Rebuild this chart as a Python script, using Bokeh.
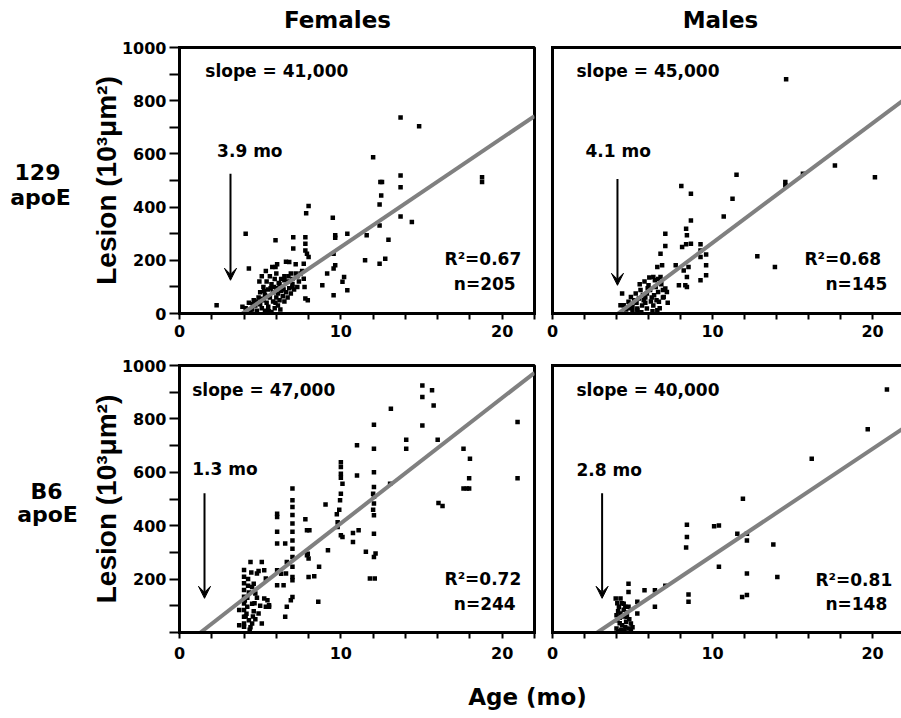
from bokeh.plotting import figure
from bokeh.models import Range1d, FixedTicker, LinearAxis, Arrow, VeeHead
from bokeh.layouts import row, column
from bokeh.embed import file_html
from bokeh.resources import INLINE
from bokeh.core.properties import value

FONT = "DejaVu Sans"

# ---------------- data (age in months, lesion in 10^3 um^2) ----------------
f129_age = [2.3, 4.1, 4.3, 5.95, 7.05, 7.05, 6.8, 7.8, 7.8, 7.8,
            7.85, 8.0, 7.7, 8.0, 7.9, 7.5, 7.7, 7.75, 7.8, 7.95,
            9.5, 9.65, 9.65, 9.55, 9.65, 9.55, 9.15, 8.85, 9.55, 10.4,
            10.2, 10.1, 10.4, 11.6, 11.5, 12.0, 12.45, 12.55, 12.5, 12.4,
            12.4, 12.4, 12.75, 12.95, 13.7, 14.85, 13.7, 13.7, 13.7, 14.4,
            18.75, 18.75, 5.95, 6.5, 6.9, 7.2, 7.4, 6.6, 7.0, 7.3,
            3.9, 4.1, 4.3, 4.5, 4.6, 4.7, 4.8, 4.9, 5.0, 5.0,
            5.1, 5.2, 5.2, 5.3, 5.3, 5.4, 5.4, 5.5, 5.5, 5.6,
            5.6, 5.7, 5.7, 5.8, 5.8, 5.9, 5.9, 6.0, 6.0, 6.0,
            6.1, 6.1, 6.2, 6.2, 6.3, 6.3, 6.4, 6.4, 6.5, 6.5,
            6.6, 6.7, 6.7, 6.8, 6.9, 7.0, 7.0, 7.1, 7.2, 7.3,
            5.1, 4.95, 5.35, 5.75, 6.05, 5.55, 4.4, 4.55, 5.85, 6.25,
            4.75, 5.05, 5.25, 5.45, 5.65, 5.95, 6.15, 6.45, 6.75, 7.6]
f129_lesion = [31, 300, 169, 275, 287, 244, 194, 287, 262, 237,
               377, 404, 187, 212, 225, 150, 131, 100, 56, 50,
               360, 294, 285, 225, 181, 169, 150, 106, 69, 300,
               137, 119, 87, 294, 200, 587, 494, 494, 444, 410,
               331, 187, 206, 277, 737, 704, 519, 475, 365, 344,
               512, 494, 175, 125, 150, 185, 120, 195, 100, 140,
               25, 20, 40, 15, 50, 30, 10, 60, 35, 80,
               20, 100, 50, 10, 70, 40, 120, 90, 25, 60,
               140, 5, 110, 45, 80, 130, 20, 95, 60, 150,
               75, 30, 110, 50, 85, 130, 65, 100, 45, 140,
               80, 60, 120, 95, 75, 110, 130, 90, 150, 100,
               140, 120, 160, 175, 185, 8, 5, 35, 100, 15,
               45, 55, 85, 65, 95, 40, 115, 90, 140, 160]

m129_age = [14.6, 11.5, 11.25, 10.7, 8.05, 8.65, 8.65, 8.35, 8.4, 8.35,
            8.65, 8.1, 9.25, 9.25, 9.6, 9.25, 9.6, 9.6, 9.25, 8.5,
            8.2, 8.4, 8.3, 7.9, 8.4, 7.7, 7.05, 7.05, 6.75, 6.55,
            6.85, 6.3, 6.75, 14.55, 14.55, 15.65, 17.65, 20.15, 12.8, 13.9,
            4.35, 4.45, 4.25, 4.75, 5.2, 5.4, 5.5, 5.7, 5.9, 6.0,
            6.1, 6.35, 6.45, 6.6, 6.65, 6.9, 7.05, 6.95, 7.15, 5.3,
            5.9, 5.3, 6.55, 5.6, 5.0, 4.6, 5.1, 5.8, 6.2, 6.3,
            6.5, 5.45, 5.75, 6.05, 6.4, 6.9, 7.2, 6.7, 4.9, 5.65,
            6.15, 6.8, 5.0, 5.55, 6.25, 4.85, 5.95, 6.6, 5.25, 5.8]
m129_lesion = [881, 522, 431, 365, 479, 450, 350, 319, 294, 260,
               262, 250, 260, 237, 222, 212, 181, 144, 125, 175,
               162, 137, 106, 106, 100, 181, 300, 254, 225, 175,
               181, 137, 137, 494, 481, 525, 556, 512, 215, 175,
               75, 31, 31, 44, 75, 56, 88, 50, 75, 106,
               88, 69, 100, 81, 44, 88, 94, 62, 81, 19,
               19, 12, 12, 30, 25, 15, 50, 40, 60, 30,
               50, 110, 120, 135, 125, 60, 40, 20, 62, 70,
               45, 110, 8, 5, 8, 20, 95, 130, 40, 60]

fb6_age = [15.05, 15.05, 15.65, 15.75, 15.05, 13.1, 12.05, 12.05, 11.0, 11.0,
           20.95, 20.95, 14.05, 14.05, 16.0, 17.6, 18.0, 17.95, 17.6, 17.95,
           17.8, 16.05, 16.3, 13.05, 12.05, 12.05, 12.05, 12.05, 12.05, 12.05,
           12.15, 12.05, 11.8, 12.1, 12.0, 12.0, 11.55, 10.75, 11.1, 10.75,
           10.0, 10.0, 10.0, 10.1, 10.0, 9.95, 9.9, 9.75, 9.8, 9.8,
           10.0, 10.1, 10.0, 9.05, 9.2, 8.65, 8.35, 8.0, 8.6, 7.9,
           8.05, 7.8, 7.9, 8.0, 7.95, 7.0, 7.0, 7.0, 7.0, 7.0,
           7.0, 7.0, 7.0, 7.0, 7.0, 7.0, 7.0, 6.65, 6.6, 7.0,
           6.9, 6.65, 6.55, 6.05, 6.05, 6.05, 6.05, 6.55, 6.05, 6.05,
           6.45, 6.3, 5.55, 5.25, 5.35, 4.0, 4.0, 4.0, 4.0, 4.0,
           4.0, 4.0, 4.0, 4.0, 4.0, 4.05, 4.1, 4.4, 5.1, 4.8,
           5.25, 5.35, 4.6, 4.7, 4.5, 4.3, 4.5, 5.1, 4.9, 4.2,
           3.7, 3.7, 5.45, 5.55, 4.3, 4.5, 4.8, 4.6, 4.4, 4.25,
           4.9, 5.0, 4.7, 4.2, 4.45, 4.35, 4.15, 4.65, 4.55, 4.25]
fb6_lesion = [925, 882, 907, 850, 775, 838, 778, 688, 701, 588,
              788, 578, 722, 688, 722, 688, 651, 578, 539, 539,
              539, 485, 474, 557, 600, 545, 508, 483, 439, 370,
              296, 283, 202, 202, 520, 460, 302, 373, 383, 339,
              638, 620, 595, 557, 520, 495, 460, 443, 413, 395,
              364, 358, 580, 479, 308, 246, 211, 208, 115, 383,
              383, 424, 289, 277, 295, 539, 495, 470, 440, 408,
              377, 345, 314, 283, 246, 208, 196, 264, 221, 133,
              121, 96, 59, 445, 433, 377, 333, 333, 233, 177,
              177, 220, 102, 127, 96, 234, 209, 184, 159, 134,
              109, 84, 59, 34, 22, 120, 60, 264, 264, 221,
              233, 202, 183, 146, 108, 46, 34, 34, 71, 96,
              84, 27, 121, 96, 150, 170, 130, 80, 20, 200,
              230, 100, 50, 130, 225, 10, 70, 110, 60, 175]

mb6_age = [20.9, 19.7, 16.2, 11.9, 8.4, 8.4, 8.35, 10.1, 10.4, 11.55,
           12.15, 12.15, 13.8, 10.4, 12.15, 14.05, 11.85, 12.15, 8.5, 8.5,
           7.05, 6.4, 6.4, 5.75, 5.3, 5.3, 4.75, 4.75, 3.95, 4.25,
           4.15, 4.25, 4.05, 4.35, 4.55, 4.75, 4.9, 4.65, 4.55, 4.75,
           4.45, 4.0, 4.1, 4.3, 4.5, 4.6, 4.2, 4.4, 4.1, 4.9,
           5.0, 4.35, 4.65, 4.05, 4.2, 4.8, 4.0, 4.45]
mb6_lesion = [910, 761, 651, 501, 404, 358, 318, 398, 401, 370,
              370, 345, 330, 246, 221, 208, 133, 140, 142, 115,
              175, 158, 96, 158, 115, 71, 183, 152, 127, 127,
              96, 71, 46, 27, 21, 15, 34, 59, 96, 96,
              108, 15, 5, 10, 5, 40, 35, 60, 80, 10,
              20, 110, 75, 110, 55, 50, 65, 85]

slopes = [41, 45, 47, 40]            # 10^3 um^2 per month
onsets = [3.9, 4.1, 1.3, 2.8]        # x-intercept, months
slope_labels = ["slope = 41,000", "slope = 45,000", "slope = 47,000", "slope = 40,000"]
r2_labels = ["R\u00b2=0.67", "R\u00b2=0.68", "R\u00b2=0.72", "R\u00b2=0.81"]
n_labels = ["n=205", "n=145", "n=244", "n=148"]
onset_labels = ["3.9 mo", "4.1 mo", "1.3 mo", "2.8 mo"]
col_titles = ["Females", "Males"]
row_titles = [["129", "apoE"], ["B6", "apoE"]]
x_major = [0, 10, 20]
x_minor = [2, 4, 6, 8, 12, 14, 16, 18, 22]
y_major = [0, 200, 400, 600, 800, 1000]
y_minor = [100, 300, 500, 700, 900]

RIGHT_XMAX = 21.81  # right-hand panels are cut at the page edge

LBL_W = 83
HEAD_H = 34
TOP_H = 313
BOT_H = 323
AGE_H = 48


# ---------------- layout helpers ----------------
def style_axis(ax, tick_out, standoff):
    ax.axis_line_width = 3
    ax.axis_line_color = "black"
    ax.axis_line_cap = "square"
    ax.major_tick_line_width = 2
    ax.minor_tick_line_width = 2
    ax.major_tick_line_color = "black"
    ax.minor_tick_line_color = "black"
    ax.major_tick_in = 0
    ax.minor_tick_in = 0
    ax.major_tick_out = tick_out
    ax.minor_tick_out = tick_out
    ax.major_label_standoff = standoff
    ax.major_label_text_font = FONT
    ax.major_label_text_font_style = "bold"
    ax.major_label_text_font_size = "16px"
    ax.major_label_text_color = "black"


def bare_axis():
    ax = LinearAxis(ticker=FixedTicker(ticks=[]))
    ax.axis_line_width = 3
    ax.axis_line_color = "black"
    ax.axis_line_cap = "square"
    ax.major_tick_out = 0
    ax.minor_tick_out = 0
    ax.major_tick_in = 0
    ax.minor_tick_in = 0
    ax.major_label_standoff = 0
    ax.major_label_text_font_size = "0px"
    return ax


def txt(p, x, y, t, align, size="17px"):
    p.text(x=[x], y=[y], text=[t], text_font=value(FONT), text_font_style="bold",
           text_font_size=size, text_align=align, text_baseline="middle",
           text_color="black")


def blank_fig(w, h):
    p = figure(width=w, height=h, x_range=Range1d(0, w), y_range=Range1d(h, 0),
               x_axis_type=None, y_axis_type=None, title=None, min_border=0,
               output_backend="svg", toolbar_location=None)
    p.outline_line_color = None
    p.background_fill_color = "white"
    p.border_fill_color = "white"
    return p


def panel(i, ages, lesions, is_left, is_top, pos):
    xmax = 22 if is_left else RIGHT_XMAX
    p = figure(width=460 if is_left else 358, height=TOP_H if is_top else BOT_H,
               x_range=Range1d(0, xmax), y_range=Range1d(0, 1000),
               x_axis_type=None, y_axis_type=None, title=None,
               output_backend="svg", toolbar_location=None,
               min_border_left=96 if is_left else 9,
               min_border_right=9 if is_left else 0,
               min_border_top=13 if is_top else 18,
               min_border_bottom=34 if is_top else 38)
    p.background_fill_color = "white"
    p.border_fill_color = "white"
    if is_left:
        p.outline_line_color = "black"
        p.outline_line_width = 3
    else:
        p.outline_line_color = None

    xa = LinearAxis(ticker=FixedTicker(ticks=x_major, minor_ticks=x_minor))
    style_axis(xa, 6, 5 if is_top else 8)
    p.add_layout(xa, "below")

    if is_left:
        ya = LinearAxis(ticker=FixedTicker(ticks=y_major, minor_ticks=y_minor))
        style_axis(ya, 10, 3)
        if not is_top:
            ya.major_label_overrides = {0: ""}
        ya.axis_label = "Lesion (10\u00b3\u03bcm\u00b2)"
        ya.axis_label_text_font = "Liberation Sans"
        ya.axis_label_text_font_style = "bold"
        ya.axis_label_text_font_size = "28px"
        ya.axis_label_text_color = "black"
        ya.axis_label_standoff = -3
        p.add_layout(ya, "left")
    else:
        p.add_layout(bare_axis(), "left")
        p.add_layout(bare_axis(), "above")

    p.scatter(ages, lesions, marker="square", size=4.5,
              fill_color="black", line_color=None)

    x0 = onsets[i]
    lx = [x0, 22]
    ly = [slopes[i] * (x - x0) for x in lx]
    p.line(lx, ly, line_color="#808080", line_width=4)

    ax_x, ax_top, ax_tip = pos["arrow"]
    p.add_layout(Arrow(end=VeeHead(size=12, line_color="black", fill_color="black",
                                   line_width=1),
                       x_start=ax_x, y_start=ax_top, x_end=ax_x, y_end=ax_tip,
                       line_color="black", line_width=2))

    txt(p, *pos["slope"], slope_labels[i], "left")
    txt(p, *pos["onset"], onset_labels[i], "left")
    txt(p, *pos["r2"], r2_labels[i], "right")
    txt(p, *pos["n"], n_labels[i], "right")
    return p


positions = [
    dict(arrow=(3.16, 525, 125), slope=(1.6, 912), onset=(2.33, 612), r2=(21.18, 206), n=(20.83, 112)),
    dict(arrow=(4.06, 506, 106), slope=(1.5, 912), onset=(2.06, 612), r2=(20.54, 206), n=(20.92, 110)),
    dict(arrow=(1.55, 522, 128), slope=(0.79, 909), onset=(0.79, 613), r2=(21.18, 202), n=(20.83, 108)),
    dict(arrow=(3.1, 522, 128), slope=(1.5, 909), onset=(1.5, 610), r2=(21.23, 198), n=(20.92, 108)),
]

tl = panel(0, f129_age, f129_lesion, True, True, positions[0])
tr = panel(1, m129_age, m129_lesion, False, True, positions[1])
bl = panel(2, fb6_age, fb6_lesion, True, False, positions[2])
br = panel(3, mb6_age, mb6_lesion, False, False, positions[3])

# column headings
head = blank_fig(901, HEAD_H)
for t, x in zip(col_titles, [337, 720]):
    txt(head, x, 19, t, "center", size="23px")

# row headings
rl1 = blank_fig(LBL_W, TOP_H)
for t, x, y in zip(row_titles[0], [37, 40], [146, 176]):
    txt(rl1, x, y, t, "center", size="22px")
rl2 = blank_fig(LBL_W, BOT_H)
for t, x, y in zip(row_titles[1], [46, 47], [153, 180]):
    txt(rl2, x, y, t, "center", size="22px")

# shared x-axis title
age = blank_fig(901, AGE_H)
txt(age, 527, 26, "Age (mo)", "center", size="23px")

layout = column(head, row(rl1, tl, tr), row(rl2, bl, br), age)

open("out.html", "w").write(file_html(layout, INLINE))
